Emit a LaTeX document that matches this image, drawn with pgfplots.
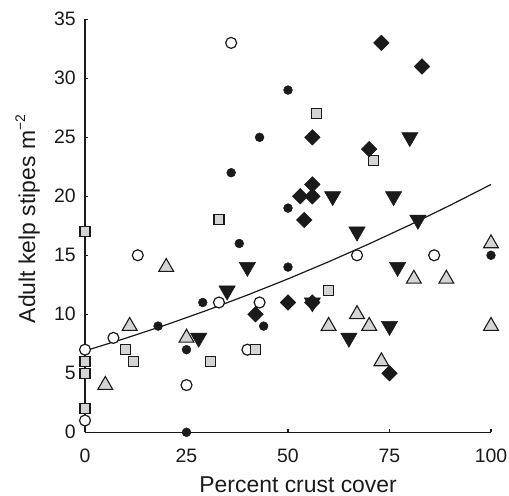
\documentclass[border=0pt]{standalone}
\usepackage{fontspec}
\setmainfont{Liberation Sans}
\usepackage{pgfplots}
\pgfplotsset{compat=1.18}
\definecolor{mk}{HTML}{1A1A1A}
\definecolor{lg}{HTML}{D4D4D4}
\begin{document}
\begin{tikzpicture}
\begin{axis}[
  scale only axis, width=406bp, height=413bp,
  xmin=0, xmax=100, ymin=0, ymax=35,
  axis lines=left,
  axis line style={-, line width=1.2bp, mk},
  clip=false,
  xtick={0,25,50,75,100}, ytick={0,5,...,35},
  tick align=inside, major tick length=3.5bp,
  tick style={line width=1.2bp, mk},
  /pgf/number format/assume math mode=true,
  ticklabel style={font=\fontsize{19.5}{22}\selectfont, text=mk},
  xticklabel style={inner sep=0pt, anchor=base, yshift=-30.7bp},
  yticklabel style={inner sep=0pt, anchor=east, xshift=-9bp},
  label style={font=\fontsize{23}{26}\selectfont, text=mk},
  xlabel={Percent crust cover},
  xlabel style={at={(axis description cs:0.525,-0.1446)}, anchor=base},
  ylabel={Adult kelp stipes m\raisebox{0.43em}{\fontsize{14}{14}\selectfont −2}},
  ylabel style={at={(axis description cs:-0.123,0.5165)}, anchor=base},
]
% open circles
\addplot[only marks, mark=*, mark size=5.5bp, mark options={fill=white, draw=mk, line width=1.2bp}] coordinates {
(36,33)(13,15)(0,7)(7,8)(33,11)(43,11)(40,7)(25,4)(0,1)(67,15)(86,15)};
% gray squares
\addplot[only marks, mark=square*, mark size=5bp, mark options={fill=lg, draw=mk, line width=1.2bp}] coordinates {
(33,18)(57,27)(71,23)(0,17)(0,6)(0,5)(0,2)(10,7)(12,6)(31,6)(42,7)(60,12)};
% gray triangles up
\addplot[only marks, mark=triangle*, mark size=8.6bp, mark options={fill=lg, draw=mk, line width=1.1bp}] coordinates {
(20,14)(11,9)(25,8)(5,4)(100,16)(81,13)(89,13)(67,10)(60,9)(70,9)(100,9)(73,6)};
% fitted curve
\addplot[mk, line width=1.2bp, no marks] coordinates {
(0,6.90)(10,7.97)(20,9.11)(30,10.33)(40,11.63)(50,13.00)(60,14.45)(70,15.97)(80,17.57)(90,19.25)(100,21.0)};
% filled circles
\addplot[only marks, mark=*, mark size=4.4bp, mark options={fill=mk, draw=mk, line width=0.5bp}] coordinates {
(50,29)(43,25)(36,22)(50,19)(38,16)(50,14)(29,11)(18,9)(44,9)(25,7)(25,0)(100,15)};
% black diamonds
\addplot[only marks, mark=square*, mark size=5.5bp, mark options={rotate=45, fill=mk, draw=mk, line width=0.5bp}] coordinates {
(73,33)(83,31)(56,25)(70,24)(56,21)(53,20)(56,20)(54,18)(42,10)(50,11)(56,11)(75,5)};
% black triangles down
\addplot[only marks, mark=triangle*, mark size=9.4bp, mark options={rotate=180, fill=mk, draw=mk, line width=0.5bp}] coordinates {
(80,25)(61,20)(76,20)(82,18)(67,17)(40,14)(35,12)(28,8)(56,11)(77,14)(65,8)(75,9)};
\end{axis}
\path ([xshift=-85bp,yshift=-62.7bp]current axis.south west) rectangle ([xshift=18bp,yshift=19.3bp]current axis.north east);
\end{tikzpicture}
\end{document}
